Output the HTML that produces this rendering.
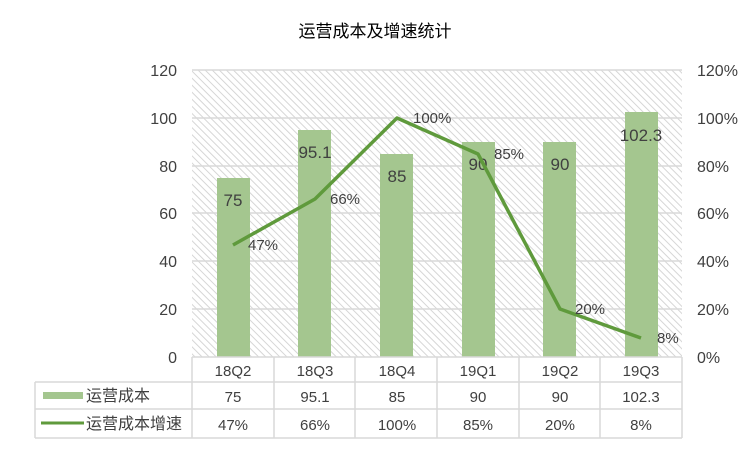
<!DOCTYPE html>
<html><head><meta charset="utf-8"><style>
body{margin:0;background:#fff}
svg text{font-family:"Liberation Sans","Noto Sans CJK SC",sans-serif;fill:#404040}
</style></head><body>
<svg width="750" height="449" viewBox="0 0 750 449" xmlns="http://www.w3.org/2000/svg">
<defs>
<pattern id="h" patternUnits="userSpaceOnUse" width="5" height="5" patternTransform="rotate(-45)">
<rect width="5" height="5" fill="#fff"/><line x1="0" y1="0" x2="0" y2="5" stroke="#d6d6d6" stroke-width="2"/>
</pattern>
</defs>
<rect width="750" height="449" fill="#fff"/>
<text x="375" y="37" text-anchor="middle" font-size="17" style="fill:#000">运营成本及增速统计</text>
<rect x="192" y="70" width="490" height="287" fill="url(#h)"/>
<g stroke="#d9d9d9" stroke-width="1.5">
<line x1="192" y1="70" x2="682" y2="70"/><line x1="192" y1="118" x2="682" y2="118"/>
<line x1="192" y1="166" x2="682" y2="166"/><line x1="192" y1="213" x2="682" y2="213"/>
<line x1="192" y1="261" x2="682" y2="261"/><line x1="192" y1="309" x2="682" y2="309"/>
</g>
<g font-size="16" text-anchor="end">
<text x="177" y="76">120</text><text x="177" y="124">100</text><text x="177" y="172">80</text>
<text x="177" y="219">60</text><text x="177" y="267">40</text><text x="177" y="315">20</text><text x="177" y="363">0</text>
</g>
<g font-size="16" text-anchor="start">
<text x="697" y="76">120%</text><text x="697" y="124">100%</text><text x="697" y="172">80%</text>
<text x="697" y="219">60%</text><text x="697" y="267">40%</text><text x="697" y="315">20%</text><text x="697" y="363">0%</text>
</g>
<g fill="#a4c68f">
<rect x="217" y="178" width="33" height="179"/>
<rect x="298" y="130" width="33" height="227"/>
<rect x="380" y="154" width="33" height="203"/>
<rect x="462" y="142" width="33" height="215"/>
<rect x="543" y="142" width="33" height="215"/>
<rect x="625" y="112" width="33" height="245"/>
</g>
<g font-size="17" text-anchor="middle">
<text x="233" y="206">75</text><text x="315" y="158">95.1</text><text x="397" y="182">85</text>
<text x="478" y="170">90</text><text x="560" y="170">90</text><text x="641" y="141">102.3</text>
</g>
<polyline points="233,245 315,199 397,118 478,154 560,309 641,338" fill="none" stroke="#5f9a3c" stroke-width="3.5" stroke-linejoin="round"/>
<g font-size="15">
<text x="248" y="250">47%</text><text x="330" y="204">66%</text><text x="413" y="123">100%</text>
<text x="494" y="159">85%</text><text x="575" y="314">20%</text><text x="657" y="343">8%</text>
</g>
<g stroke="#d9d9d9" stroke-width="1.5" fill="none">
<line x1="192" y1="357" x2="682" y2="357"/>
<line x1="35" y1="382" x2="682" y2="382"/>
<line x1="35" y1="409" x2="682" y2="409"/>
<line x1="35" y1="438" x2="682" y2="438"/>
<line x1="35" y1="382" x2="35" y2="438"/>
<line x1="192" y1="357" x2="192" y2="438"/>
<line x1="274" y1="357" x2="274" y2="438"/>
<line x1="355" y1="357" x2="355" y2="438"/>
<line x1="437" y1="357" x2="437" y2="438"/>
<line x1="519" y1="357" x2="519" y2="438"/>
<line x1="600" y1="357" x2="600" y2="438"/>
<line x1="682" y1="357" x2="682" y2="438"/>
</g>
<g font-size="15" text-anchor="middle">
<text x="233" y="376">18Q2</text><text x="315" y="376">18Q3</text><text x="397" y="376">18Q4</text>
<text x="478" y="376">19Q1</text><text x="560" y="376">19Q2</text><text x="641" y="376">19Q3</text>
<text x="233" y="402">75</text><text x="315" y="402">95.1</text><text x="397" y="402">85</text>
<text x="478" y="402">90</text><text x="560" y="402">90</text><text x="641" y="402">102.3</text>
<text x="233" y="430">47%</text><text x="315" y="430">66%</text><text x="397" y="430">100%</text>
<text x="478" y="430">85%</text><text x="560" y="430">20%</text><text x="641" y="430">8%</text>
</g>
<rect x="43" y="392" width="40" height="7" fill="#a4c68f"/>
<line x1="41" y1="423" x2="84" y2="423" stroke="#5f9a3c" stroke-width="3"/>
<text x="86" y="401" font-size="16">运营成本</text>
<text x="86" y="429" font-size="16">运营成本增速</text>
</svg>
</body></html>
